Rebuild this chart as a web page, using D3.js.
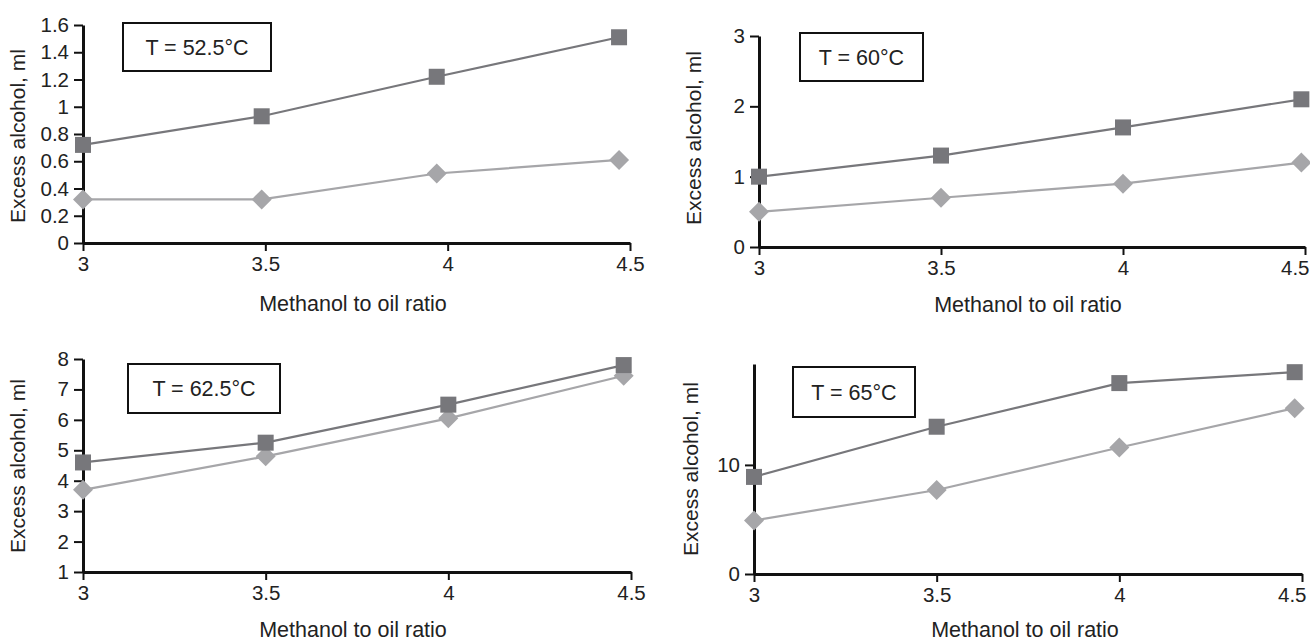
<!DOCTYPE html>
<html>
<head>
<meta charset="utf-8">
<script src="https://cdnjs.cloudflare.com/ajax/libs/d3/7.8.5/d3.min.js"></script>
<style>
  body { margin: 0; background: #fff; }
  svg { font-family: "Liberation Sans", Arial, Helvetica, sans-serif; }
  .axis path, .axis line { stroke: #111; }
  .axis text { font-size: 20.5px; fill: #222; font-family: "Liberation Sans", Arial, sans-serif; }
</style>
</head>
<body>
<script>
// methanol to oil ratio
var xs1 = [3, 3.49, 3.97, 4.47];
var xs2 = [3, 3.5, 4, 4.49];
var xs3 = [3, 3.5, 4, 4.48];
var xs4 = [3, 3.5, 4, 4.48];

// excess alcohol, ml
var sq1 = [0.72, 0.93, 1.22, 1.51];
var di1 = [0.32, 0.32, 0.51, 0.61];
var sq2 = [1.0, 1.3, 1.7, 2.1];
var di2 = [0.5, 0.7, 0.9, 1.2];
var sq3 = [4.6, 5.25, 6.5, 7.8];
var di3 = [3.7, 4.8, 6.05, 7.45];
var sq4 = [8.9, 13.5, 17.5, 18.5];
var di4 = [4.9, 7.7, 11.6, 15.2];

var xTicks = [3, 3.5, 4, 4.5];
var yTicks1 = [0, 0.2, 0.4, 0.6, 0.8, 1, 1.2, 1.4, 1.6];
var yTicks2 = [0, 1, 2, 3];
var yTicks3 = [1, 2, 3, 4, 5, 6, 7, 8];
var yTicks4 = [0, 10];

var titles = ["T = 52.5°C", "T = 60°C", "T = 62.5°C", "T = 65°C"];

var panels = [
  {xs: xs1, sq: sq1, di: di1, yt: yTicks1, ydom: [0, 1.6], title: titles[0],
   left: 83, right: 630, top: 25, bottom: 243, edge: false,
   box: [123, 23, 148, 48], ylab: [25, 136], xlab: [353, 311]},
  {xs: xs2, sq: sq2, di: di2, yt: yTicks2, ydom: [0, 3], title: titles[1],
   left: 759, right: 1305, top: 36, bottom: 247, edge: true,
   box: [800, 33, 123, 48], ylab: [701, 138], xlab: [1028, 312]},
  {xs: xs3, sq: sq3, di: di3, yt: yTicks3, ydom: [1, 8], title: titles[2],
   left: 83, right: 631, top: 359, bottom: 572, edge: false,
   box: [128, 364, 152, 49], ylab: [25, 466], xlab: [353, 637]},
  {xs: xs4, sq: sq4, di: di4, yt: yTicks4, ydom: [0, 19.25], title: titles[3],
   left: 754, right: 1302, top: 364, bottom: 574, edge: true,
   box: [793, 367, 122, 50], ylab: [698, 469], xlab: [1025, 637]}
];

var sqColor = "#77777b";
var diColor = "#a6a6a9";

var svg = d3.select("body").append("svg")
  .attr("width", 1310)
  .attr("height", 641);

panels.forEach(function(p){
  var x = d3.scaleLinear().domain([3, 4.5]).range([p.left, p.right]);
  var y = d3.scaleLinear().domain(p.ydom).range([p.bottom, p.top]);

  var xAxis = d3.axisBottom(x).tickValues(xTicks).tickSize(8).tickSizeOuter(0).tickPadding(6)
    .tickFormat(d3.format(""));
  var yAxis = d3.axisLeft(y).tickValues(p.yt).tickSize(9).tickSizeOuter(0).tickPadding(5)
    .tickFormat(d3.format(""));

  var gy = svg.append("g").attr("class", "axis")
    .attr("transform", "translate(" + p.left + ",0)")
    .call(yAxis);
  var gx = svg.append("g").attr("class", "axis")
    .attr("transform", "translate(0," + p.bottom + ")")
    .call(xAxis);
  gy.select(".domain").attr("stroke-width", 3);
  gx.select(".domain").attr("stroke-width", 3);
  gy.selectAll(".tick line").attr("stroke-width", 2);
  gx.selectAll(".tick line").attr("stroke-width", 2);
  gx.selectAll(".tick text").attr("dy", "0.68em");
  // last label sits against the page edge in the right-hand panels
  if (p.edge) {
    gx.selectAll(".tick text").filter(function(d){ return d === 4.5; })
      .attr("text-anchor", "end").attr("x", 4);
  }

  var line = d3.line().x(function(d){ return x(d[0]); }).y(function(d){ return y(d[1]); });
  var sqData = p.xs.map(function(v, i){ return [v, p.sq[i]]; });
  var diData = p.xs.map(function(v, i){ return [v, p.di[i]]; });

  svg.append("path").datum(diData)
    .attr("d", line).attr("fill", "none")
    .attr("stroke", diColor).attr("stroke-width", 2.2);
  svg.append("path").datum(sqData)
    .attr("d", line).attr("fill", "none")
    .attr("stroke", sqColor).attr("stroke-width", 2.2);

  var diamond = d3.symbol().type(d3.symbolSquare).size(200);
  svg.selectAll(null).data(diData).enter().append("path")
    .attr("d", diamond)
    .attr("transform", function(d){ return "translate(" + x(d[0]) + "," + y(d[1]) + ") rotate(45)"; })
    .attr("fill", diColor);

  svg.selectAll(null).data(sqData).enter().append("rect")
    .attr("x", function(d){ return x(d[0]) - 8; })
    .attr("y", function(d){ return y(d[1]) - 8; })
    .attr("width", 16)
    .attr("height", 16)
    .attr("fill", sqColor);

  // temperature box
  svg.append("rect")
    .attr("x", p.box[0]).attr("y", p.box[1])
    .attr("width", p.box[2]).attr("height", p.box[3])
    .attr("fill", "#fff").attr("stroke", "#111").attr("stroke-width", 2);
  svg.append("text")
    .attr("x", p.box[0] + p.box[2] / 2)
    .attr("y", p.box[1] + p.box[3] / 2)
    .attr("dy", "0.35em")
    .attr("text-anchor", "middle")
    .style("font-size", "21.5px")
    .attr("fill", "#222")
    .text(p.title);

  svg.append("text")
    .attr("transform", "translate(" + p.ylab[0] + "," + p.ylab[1] + ") rotate(-90)")
    .attr("text-anchor", "middle")
    .style("font-size", "21px")
    .attr("fill", "#222")
    .text("Excess alcohol, ml");

  svg.append("text")
    .attr("x", p.xlab[0])
    .attr("y", p.xlab[1])
    .attr("text-anchor", "middle")
    .style("font-size", "21.5px")
    .attr("fill", "#222")
    .text("Methanol to oil ratio");
});
</script>
</body>
</html>
